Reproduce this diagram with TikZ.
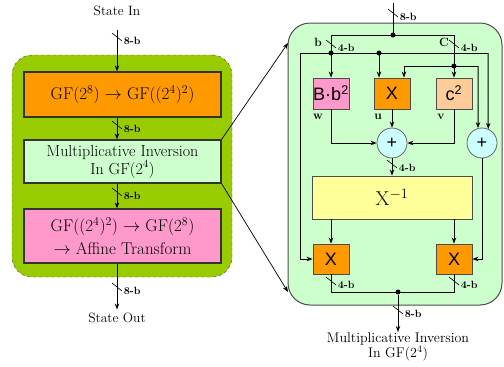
\documentclass[tikz,border=0pt]{standalone}
\usepackage{fontspec}
\newfontfamily\arialfont{Liberation Sans}
\usetikzlibrary{arrows.meta,positioning,calc}

\definecolor{leafgreen}{HTML}{99CC00}
\definecolor{orangebox}{HTML}{FF9900}
\definecolor{mintbox}{HTML}{CCFFCC}
\definecolor{pinkbox}{HTML}{FF99CC}
\definecolor{peachbox}{HTML}{FFCC99}
\definecolor{yellowbox}{HTML}{FFFF99}
\definecolor{cyanlite}{HTML}{CCFFFF}

\begin{document}
\begin{tikzpicture}[
  x=1pt, y=-1pt,
  >={Stealth[length=6pt,width=4.5pt]},
  stage/.style={draw=black!80, line width=1.2pt, minimum width=197pt, inner sep=0pt, align=center},
  unit/.style={draw=black!70, line width=0.8pt, minimum width=36pt, minimum height=31pt, inner sep=0pt, font=\arialfont\fontsize{18}{18}\selectfont},
  xorgate/.style={circle, draw=black!60, line width=0.8pt, fill=cyanlite, minimum size=30pt, inner sep=0pt, font=\arialfont\fontsize{18}{18}\selectfont},
  wire/.style={line width=1pt},
  dot/.style={circle, fill=black, inner sep=0pt, minimum size=5pt},
  buslbl/.style={font=\bfseries\fontsize{10.5}{10.5}\selectfont, inner sep=1.5pt, anchor=west},
  sig/.style={font=\bfseries\fontsize{12}{12}\selectfont, inner sep=0pt},
  pics/bus/.style={code={\draw[line width=0.6pt] (-5,-4) -- (5,4) node[buslbl] {#1};}}
]
  \useasboundingbox (0,0) rectangle (504,367);

  % left: the three stages of the S-box
  \node[draw=black!70, dashed, fill=leafgreen, rounded corners=20pt, minimum width=220pt, minimum height=222pt] (outer) at (122,166) {};
  \node[stage, fill=orangebox, minimum height=45pt, font=\fontsize{17}{20}\selectfont] (conv) at (122.5,94.5) {GF(2$^8$) $\rightarrow$ GF((2$^4$)$^2$)};
  \node[stage, fill=mintbox, minimum height=43pt, font=\fontsize{16}{18}\selectfont] (minv) at (122.5,161.5) {Multiplicative Inversion\\In GF(2$^4$)};
  \node[stage, fill=pinkbox, minimum height=54pt, font=\fontsize{17}{23}\selectfont] (affn) at (122.5,236) {GF((2$^4$)$^2$) $\rightarrow$ GF(2$^8$)\\$\rightarrow$ Affine Transform};

  \node[font=\fontsize{13.5}{15}\selectfont] (stin) at (117,11) {State In};
  \node[font=\fontsize{13.5}{15}\selectfont] (stout) at (117,318) {State Out};
  \coordinate (a0) at (117,30);

  \draw[wire,->] (a0) -- (a0 |- conv.north);
  \draw[wire,->] (conv.south -| stin) -- (minv.north -| stin);
  \draw[wire,->] (minv.south -| stin) -- (affn.north -| stin);
  \draw[wire,->] (affn.south -| stin) -- (stout.north);

  \pic at (117,37) {bus=8-b};
  \pic at (117,125) {bus=8-b};
  \pic at (117,192) {bus=8-b};
  \pic at (117,287) {bus=8-b};

  % right: inversion in GF(2^4)
  \node[draw=black!70, fill=mintbox, rounded corners=22pt, minimum width=214pt, minimum height=282pt, line width=1pt] (panel) at (395,164) {};

  \node[unit, fill=pinkbox] (bsq) at (331,93.5) {B·b\textsuperscript{2}};
  \node[unit, fill=orangebox] (mul) at (392,93.5) {X};
  \node[unit, fill=peachbox] (csq) at (454,93.5) {c\textsuperscript{2}};
  \node[xorgate] (xor1) at (392,143) {+};
  \node[xorgate] (xor2) at (482,143) {+};
  \node[unit, fill=yellowbox, minimum width=160pt, minimum height=43pt, font=\fontsize{20}{20}\selectfont] (inv) at (392,197.5) {X$^{-1}$};
  \node[unit, fill=orangebox, minimum height=30pt] (mull) at (331,259) {X};
  \node[unit, fill=orangebox, minimum height=30pt] (mulr) at (454,259) {X};

  \node[sig] (lb) at (318,42) {b};
  \node[sig] (lc) at (444,42) {C};
  \node[sig] (lw) at (318,117) {w};
  \node[sig] (lu) at (378,117) {u};
  \node[sig] (lv) at (441,117) {v};

  \coordinate (in8) at (393,3);
  \coordinate (bl) at (331,35);
  \coordinate (cr) at (454,35);
  \coordinate (hl) at (300,53);
  \coordinate (hr) at (488,53);
  \coordinate (gl) at (404,66);
  \coordinate (gr) at (478,66);
  \coordinate (pin) at (288,43);
  \coordinate (pout) at (288,292);

  \draw[wire] (in8) -- (393,35);
  \draw[wire] (bl) -- (cr);
  \draw[wire,->] (bl) -- (bsq.north);
  \draw[wire,->] (cr) -- (csq.north);
  \draw[wire] (hl) -- (hr);
  \draw[wire,->] (379,53) -- (379,0 |- mul.north);
  \draw[wire] (gl) -- (gr);
  \draw[wire,->] (gl) -- (gl |- mul.north);
  \draw[wire,->] (gr) -- (xor2.105);
  \draw[wire,->] (hr) -- (xor2.66);
  \draw[wire,->] (hl) |- (mull.west);
  \draw[wire,->] (bsq.south) |- (xor1.west);
  \draw[wire,->] (mul.south) -- (xor1.north);
  \draw[wire,->] (csq.south) |- (xor1.east);
  \draw[wire,->] (xor1.south) -- (inv.north);
  \draw[wire,->] (inv.south -| mull) -- (mull.north);
  \draw[wire,->] (inv.south -| mulr) -- (mulr.north);
  \draw[wire,->] (xor2.south) |- (mulr.east);
  \draw[wire] (mull.south) |- (mulr.south |- 0,292) -- (mulr.south);

  % junctions
  \node[dot] (j0) at (393,35) {};
  \node[dot] (jb) at (331,53) {};
  \node[dot] (ja) at (379,53) {};
  \node[dot] (jc) at (454,66) {};
  \node[dot] (jo) at (398,292) {};

  \node[font=\fontsize{14}{15}\selectfont, align=center, anchor=north, inner sep=1pt] (minvlbl) at (398,332) {Multiplicative Inversion\\In GF(2$^4$)};
  \draw[wire,->] (jo) -- (minvlbl.north);

  \pic at (393,13) {bus=8-b};
  \pic at (331,44) {bus=4-b};
  \pic at (454,44) {bus=4-b};
  \pic at (392,164) {bus=4-b};
  \pic at (331,281) {bus=4-b};
  \pic at (454,281) {bus=4-b};
  \pic at (398,310) {bus=8-b};

  % links from the middle stage to its detail
  \draw[->, line width=0.7pt] (minv.north east) -- (pin);
  \draw[->, line width=0.7pt] (minv.south east) -- (pout);
\end{tikzpicture}
\end{document}
